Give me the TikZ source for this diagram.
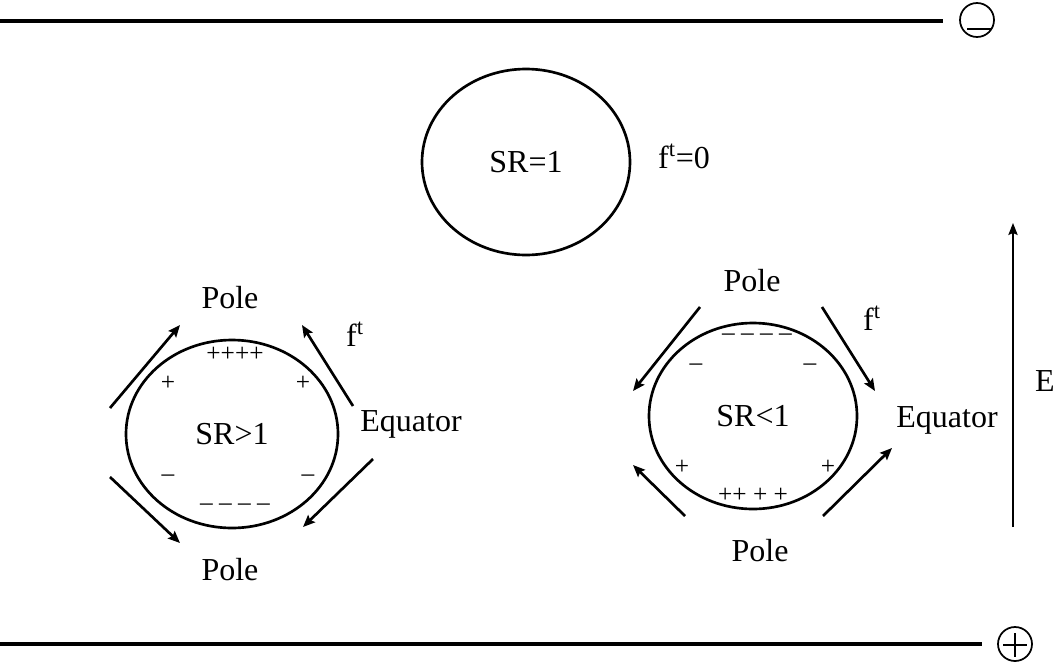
\documentclass[tikz,border=0pt]{standalone}
\usepackage{fontspec}
\setmainfont{Liberation Serif}
\usetikzlibrary{arrows.meta,shapes.geometric}
\begin{document}
\begin{tikzpicture}[x=0.75pt,y=-0.75pt,
  lbl/.style={inner sep=0pt,font=\fontsize{24}{28}\selectfont},
  chg/.style={inner sep=0pt,font=\fontsize{19}{22}\selectfont},
  drop/.style={draw,ellipse,line width=2pt,inner sep=0pt,font=\fontsize{24}{28}\selectfont},
  flow/.style={line width=2pt,-{Stealth[length=9pt,width=7.5pt,inset=1.5pt]}},
  plate/.style={line width=3pt},
  term/.style={draw,circle,line width=1.3pt,minimum size=25.5pt,inner sep=0pt}]
\useasboundingbox (0,0) rectangle (1064,668);

% electrodes
\coordinate (tl) at (0,21);
\coordinate (tr) at (943,21);
\node[term] (neg) at (977,20) {};
\draw[plate] (tl) -- (tr);
\draw[line width=1.3pt] (967,29) -- (992,29);

\coordinate (bl) at (0,644);
\coordinate (br) at (982,644);
\node[term] (pos) at (1015,644) {};
\draw[plate] (bl) -- (br);
\draw[line width=1.3pt] (1003,645) -- (1027,645) (1015,633) -- (1015,657);

% field direction
\coordinate (e0) at (1013,527);
\coordinate (e1) at (1013,223);
\draw[line width=1pt,-{Stealth[length=9pt,width=7pt,inset=1.5pt]}] (e0) -- (e1);
\node[lbl] (E) at (1045,381) {E};

% spherical drop
\node[drop,minimum width=156pt,minimum height=139.5pt] (d0) at (526,162) {SR=1};
\node[lbl] (f0) at (684,156) {f\textsuperscript{t}=0};

% prolate drop, SR>1
\node[drop,minimum width=159pt,minimum height=141pt] (d1) at (232,434) {SR>1};
\node[lbl] (p1t) at (230,298) {Pole};
\node[lbl] (p1b) at (230,570) {Pole};
\node[lbl] (q1) at (411,424) {Equator};
\node[lbl] (f1) at (355,334) {f\textsuperscript{t}};
\node[chg] at (235,354) {++++};
\node[chg] at (168,383) {+};
\node[chg] at (303,383) {+};
\node[chg] at (168,478) {–};
\node[chg] at (308,478) {–};
\node[chg] at (235,507) {– – – –};
\coordinate (a1) at (110,408); \coordinate (b1) at (180,325);
\coordinate (a2) at (353,406); \coordinate (b2) at (302,325);
\coordinate (a3) at (110,477); \coordinate (b3) at (180,543);
\coordinate (a4) at (373,459); \coordinate (b4) at (303,527);
\draw[flow] (a1) -- (b1);
\draw[flow] (a2) -- (b2);
\draw[flow] (a3) -- (b3);
\draw[flow] (a4) -- (b4);

% oblate drop, SR<1
\node[drop,minimum width=156pt,minimum height=139.5pt] (d2) at (753,416) {SR<1};
\node[lbl] (p2t) at (752,281) {Pole};
\node[lbl] (p2b) at (760,551) {Pole};
\node[lbl] (q2) at (947,420) {Equator};
\node[lbl] (f2) at (872,318) {f\textsuperscript{t}};
\node[chg] at (757,337) {– – – –};
\node[chg] at (696,367) {–};
\node[chg] at (810,367) {–};
\node[chg] at (682,467) {+};
\node[chg] at (828,467) {+};
\node[chg] at (753,495) {++ + +};
\coordinate (c1) at (700,307); \coordinate (g1) at (633,391);
\coordinate (c2) at (822,307); \coordinate (g2) at (875,391);
\coordinate (c3) at (685,516); \coordinate (g3) at (633,465);
\coordinate (c4) at (823,516); \coordinate (g4) at (892,448);
\draw[flow] (c1) -- (g1);
\draw[flow] (c2) -- (g2);
\draw[flow] (c3) -- (g3);
\draw[flow] (c4) -- (g4);
\end{tikzpicture}
\end{document}
